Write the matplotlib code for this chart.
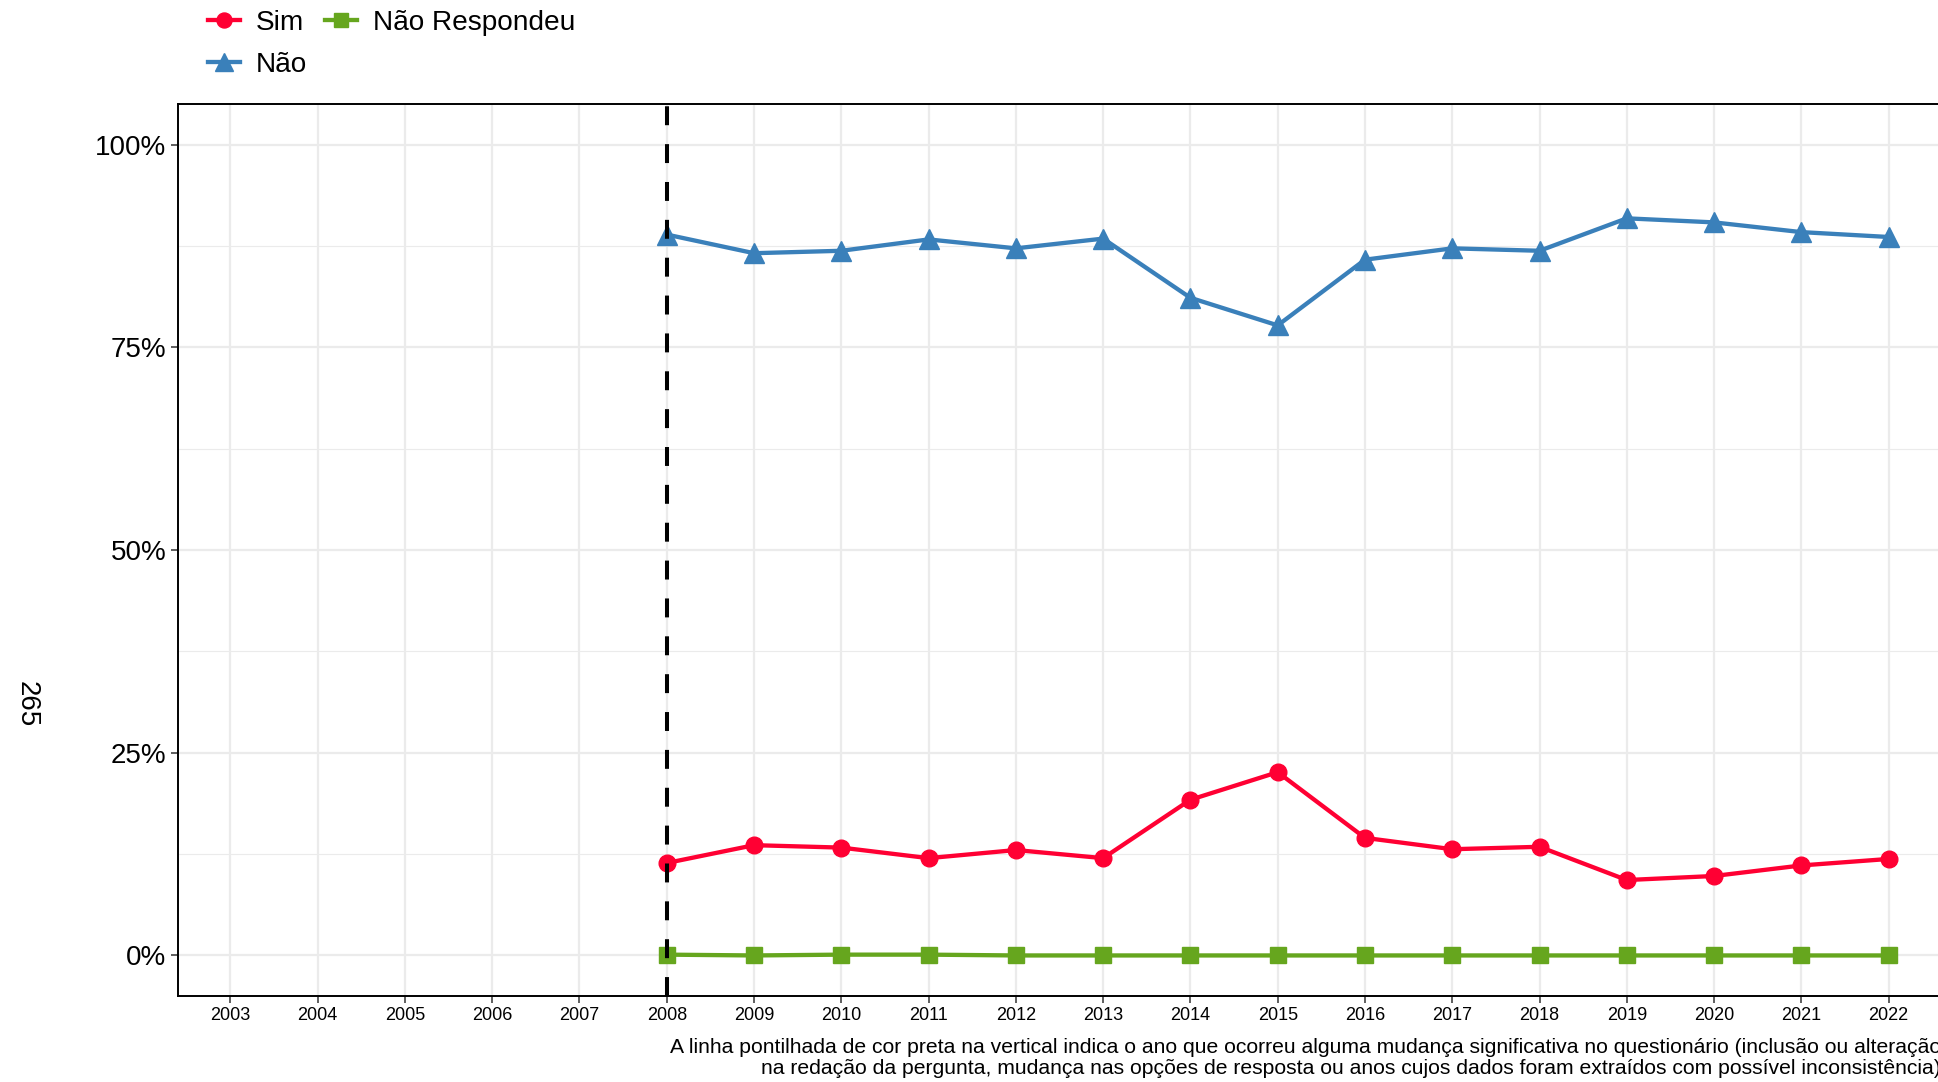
import numpy as np
import matplotlib
matplotlib.use("Agg")
import matplotlib.pyplot as plt
from matplotlib.ticker import FuncFormatter, MultipleLocator

plt.rcParams['font.family'] = ['Liberation Sans', 'DejaVu Sans']

# dados (percentuais)
anos_eixo = list(range(2003, 2023))
anos = list(range(2008, 2023))
sim = [11.4, 13.6, 13.3, 12.0, 13.0, 12.0, 19.2, 22.6, 14.5, 13.1, 13.4, 9.3, 9.8, 11.1, 11.9]
nao = [88.9, 86.6, 86.9, 88.3, 87.2, 88.4, 81.1, 77.7, 85.8, 87.2, 86.9, 90.9, 90.4, 89.2, 88.6]
nao_resp = [0.1, 0.0, 0.1, 0.1, 0.0, 0.0, 0.0, 0.0, 0.0, 0.0, 0.0, 0.0, 0.0, 0.0, 0.0]
ano_mudanca = 2008

cor_sim = "#FF0033"
cor_nao = "#3A80BA"
cor_nr = "#66A61E"

W, H = 1938, 1082
fig = plt.figure(figsize=(W / 100, H / 100), dpi=100)
ax = fig.add_axes([178 / W, 1 - 996 / H, (1941 - 178) / W, (996 - 104) / H])

# grade
ax.set_axisbelow(True)
ax.yaxis.set_major_locator(MultipleLocator(25))
ax.yaxis.set_minor_locator(MultipleLocator(12.5))
ax.set_xticks(anos_eixo)
ax.grid(which="major", color="#EBEBEB", linewidth=1.6)
ax.grid(which="minor", axis="y", color="#EBEBEB", linewidth=0.8)
ax.tick_params(which="minor", length=0)

l_sim, = ax.plot(anos, sim, color=cor_sim, lw=3.1, marker="o", ms=12, label="Sim", zorder=3)
l_nao, = ax.plot(anos, nao, color=cor_nao, lw=3.1, marker="^", ms=14, label="Não", zorder=3)
l_nr, = ax.plot(anos, nao_resp, color=cor_nr, lw=3.1, marker="s", ms=11, label="Não Respondeu", zorder=3)

# linha tracejada do ano de mudança
ax.axvline(ano_mudanca, color="black", lw=2.9, linestyle=(0, (4.7, 4.7)), zorder=4)

ax.set_xlim(2002.4, 2022.6)
ax.set_ylim(-5, 105)
ax.yaxis.set_major_formatter(FuncFormatter(lambda v, p: f"{v:.0f}%"))

for s in ax.spines.values():
    s.set_color("black")
    s.set_linewidth(1.4)
ax.tick_params(which="major", direction="out", length=5, width=1.1, color="#333333")
ax.tick_params(axis="y", labelsize=20, pad=3.5)
ax.tick_params(axis="x", labelsize=13, pad=3)

fig.text(27 / W, 1 - 704 / H, "265", rotation=270, ha="center", va="center", fontsize=20)

fig.text(1941 / W, 1 - 1058 / H,
         "A linha pontilhada de cor preta na vertical indica o ano que ocorreu alguma mudança significativa no questionário (inclusão ou alteração\n"
         "na redação da pergunta, mudança nas opções de resposta ou anos cujos dados foram extraídos com possível inconsistência)",
         ha="right", va="center", ma="right", fontsize=15.2, linespacing=1.15)

fig.legend(handles=[l_sim, l_nao, l_nr], ncol=2, loc="upper left",
           bbox_to_anchor=(208 / W, 1 - 10 / H), frameon=False, fontsize=20.2,
           handlelength=1.15, handletextpad=0.55, columnspacing=0.65,
           labelspacing=0.56, borderpad=0, borderaxespad=0, markerscale=0.9)

fig.savefig("out.png", dpi=100)
